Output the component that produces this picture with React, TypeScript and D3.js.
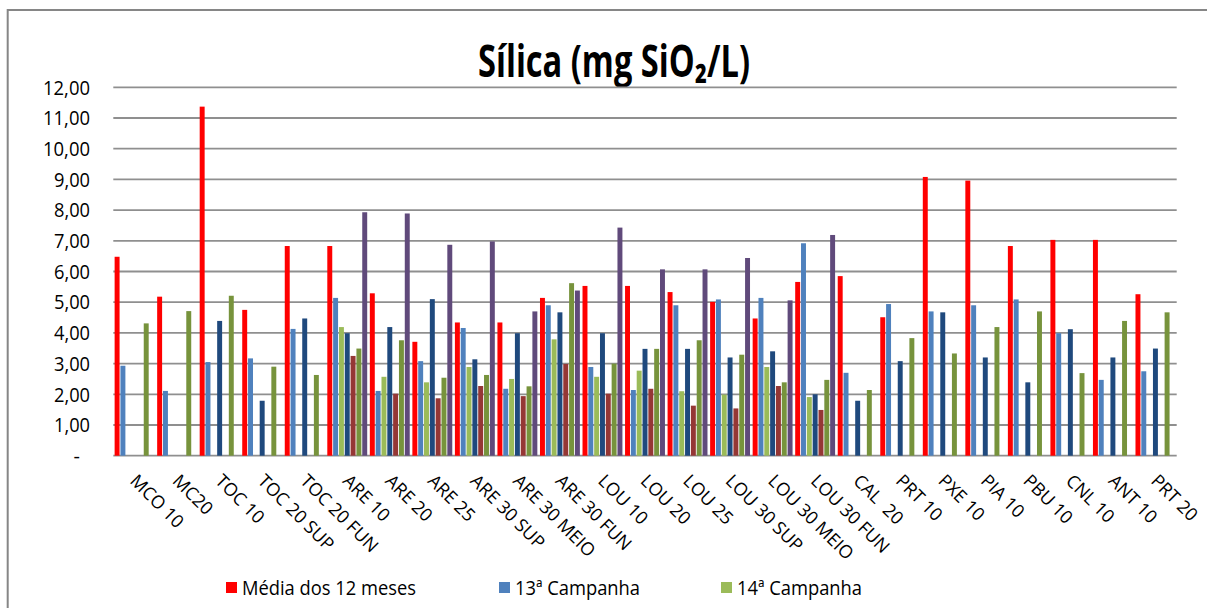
import React from "react";
import * as d3 from "d3";

const categories = [
  "MCO 10", "MC20", "TOC 10", "TOC 20 SUP", "TOC 20 FUN", "ARE 10", "ARE 20", "ARE 25",
  "ARE 30 SUP", "ARE 30 MEIO", "ARE 30 FUN", "LOU 10", "LOU 20", "LOU 25", "LOU 30 SUP",
  "LOU 30 MEIO", "LOU 30 FUN", "CAL  20", "PRT 10", "PXE 10", "PIA 10", "PBU 10", "CNL 10",
  "ANT 10", "PRT 20",
];

type V = number | null;
const media12: V[] = [6.48, 5.18, 11.37, 4.75, 6.83, 6.83, 5.29, 3.71, 4.34, 4.34, 5.14, 5.53, 5.53, 5.33, 5.01, 4.47, 5.66, 5.85, 4.51, 9.08, 8.96, 6.83, 7.03, 7.03, 5.26];
const camp13: V[] = [2.93, 2.11, 3.05, 3.17, 4.13, 5.14, 2.11, 3.08, 4.16, 2.18, 4.9, 2.89, 2.14, 4.9, 5.09, 5.14, 6.92, 2.7, 4.94, 4.7, 4.9, 5.09, 3.99, 2.47, 2.75];
const camp14: V[] = [null, null, null, null, null, 4.19, 2.57, 2.39, 2.89, 2.5, 3.79, 2.57, 2.77, 2.1, 1.99, 2.89, 1.91, null, null, null, null, null, null, null, null];
const camp15: V[] = [null, null, 4.39, 1.79, 4.47, 3.99, 4.19, 5.1, 3.14, 3.99, 4.67, 3.99, 3.48, 3.48, 3.2, 3.4, 2.0, 1.79, 3.08, 4.67, 3.2, 2.39, 4.12, 3.2, 3.49];
const camp16: V[] = [null, null, null, null, null, 3.25, 2.02, 1.87, 2.27, 1.94, 2.99, 2.02, 2.18, 1.63, 1.54, 2.27, 1.49, null, null, null, null, null, null, null, null];
const camp17: V[] = [4.31, 4.71, 5.21, 2.9, 2.63, 3.49, 3.76, 2.54, 2.63, 2.26, 5.62, 3.0, 3.48, 3.76, 3.29, 2.39, 2.47, 2.14, 3.83, 3.33, 4.19, 4.7, 2.69, 4.39, 4.67];
const camp18: V[] = [null, null, null, null, null, 7.93, 7.89, 6.87, 6.98, 4.7, 5.38, 7.43, 6.07, 6.07, 6.44, 5.06, 7.19, null, null, null, null, null, null, null, null];

const seriesNames = ["Média dos 12 meses", "13ª Campanha", "14ª Campanha", "15ª Campanha", "16ª Campanha", "17ª Campanha", "18ª Campanha"];
const seriesValues = [media12, camp13, camp14, camp15, camp16, camp17, camp18];
const seriesColors = ["#FF0000", "#4F81BD", "#9BBB59", "#1F497D", "#953735", "#77933C", "#604A7B"];

const yTicks = [0, 1, 2, 3, 4, 5, 6, 7, 8, 9, 10, 11, 12];

const titleText = "Sílica (mg SiO₂/L)";

const legendItems = [
  { idx: 0, sx: 226, tx: 242, tw: 174 },
  { idx: 1, sx: 499, tx: 515, tw: 125 },
  { idx: 2, sx: 721, tx: 737, tw: 125 },
];

export default function App() {
  const W = 1207, H = 608;
  const left = 113.3, right = 1176.7, top = 87.3, bottom = 455.7;

  const x0 = d3.scaleBand<string>().domain(categories).range([left, right]).paddingInner(0.062).paddingOuter(0.031);
  const x1 = d3.scaleBand<string>().domain(seriesNames).range([0, x0.bandwidth()]).paddingInner(0.15).paddingOuter(0.0);
  const y = d3.scaleLinear().domain([0, 12]).range([bottom, top]);
  const fmt = (v: number) => (v === 0 ? "-" : d3.format(".2f")(v).replace(".", ","));

  const font = "'Open Sans', sans-serif";

  return (
    <svg width={W} height={H} style={{ position: "absolute", left: 0, top: 0, background: "#fff" }}>
      <rect x={0} y={0} width={W} height={H} fill="#fff" />
      {/* frame */}
      <path d={`M7.7,${H + 5} V10 H${W + 5}`} fill="none" stroke="#868686" strokeWidth={2} />

      {/* title */}
      <text x={478} y={77} fontFamily={font} fontWeight={700} fontSize={44} textLength={272} lengthAdjust="spacingAndGlyphs" fill="#000">
        {titleText}
      </text>

      {/* gridlines */}
      {yTicks.map((t) => (
        <line key={"g" + t} x1={left} x2={right} y1={y(t)} y2={y(t)} stroke="#8f8f8f" strokeWidth={1.8} />
      ))}

      {/* y tick labels */}
      {yTicks.map((t) => (
        <text key={"yl" + t} x={t === 0 ? 80 : 90} y={y(t)} dy="0.36em" textAnchor="end" fontFamily={font} fontSize={20} textLength={t === 0 ? undefined : t >= 10 ? 47 : 36} lengthAdjust="spacingAndGlyphs" fill="#000">
          {fmt(t)}
        </text>
      ))}

      {/* bars */}
      {categories.map((c, ci) => (
        <g key={c} transform={`translate(${x0(c)},0)`}>
          {seriesNames.map((s, si) => {
            const v = seriesValues[si][ci];
            if (v == null) return null;
            return (
              <rect key={s} x={x1(s)} y={y(v)} width={x1.bandwidth()} height={y(0) - y(v)} fill={seriesColors[si]} />
            );
          })}
        </g>
      ))}

      {/* x labels */}
      {categories.map((c) => {
        const cx = (x0(c) as number) + x0.bandwidth() / 2 - 5.5;
        return (
          <text key={"xl" + c} transform={`translate(${cx},482) rotate(45)`} fontFamily={font} fontSize={18} fill="#000" style={{ whiteSpace: "pre" }}>
            {c}
          </text>
        );
      })}

      {/* legend */}
      {legendItems.map((l) => (
        <g key={"lg" + l.idx}>
          <rect x={l.sx} y={582} width={11} height={11} fill={seriesColors[l.idx]} />
          <text x={l.tx} y={588} dy="0.36em" fontFamily={font} fontSize={20} textLength={l.tw} lengthAdjust="spacingAndGlyphs" fill="#000">
            {seriesNames[l.idx]}
          </text>
        </g>
      ))}
    </svg>
  );
}
